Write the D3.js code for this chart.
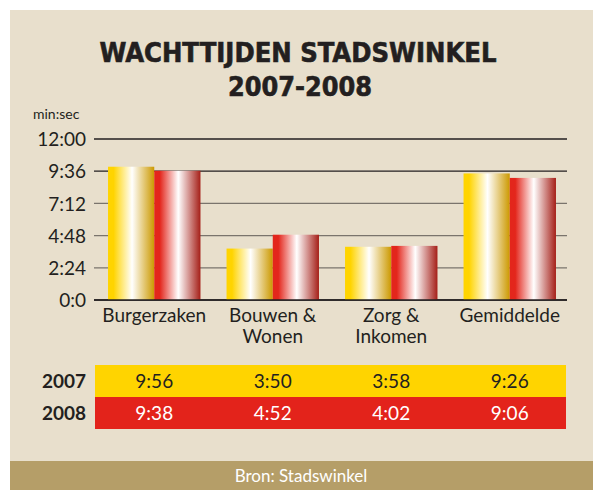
<!DOCTYPE html>
<html><head><meta charset="utf-8">
<script src="https://cdn.jsdelivr.net/npm/d3@7"></script>
<style>body{margin:0;background:#fff}svg{display:block}</style>
</head><body>
<script>
const categories = [["Burgerzaken"], ["Bouwen &", "Wonen"], ["Zorg &", "Inkomen"], ["Gemiddelde"]];
const seriesNames = ["2007", "2008"];
const values2007 = ["9:56", "3:50", "3:58", "9:26"];
const values2008 = ["9:38", "4:52", "4:02", "9:06"];
const tickLabels = ["0:0", "2:24", "4:48", "7:12", "9:36", "12:00"];
const titleLines = ["WACHTTIJDEN STADSWINKEL", "2007-2008"];
const unitLabel = "min:sec";
const sourceText = "Bron: Stadswinkel";

const toSec = s => { const [m, ss] = s.split(":").map(Number); return m * 60 + ss; };

const W = 593, H = 490;
const svg = d3.select("body").append("svg").attr("width", W).attr("height", H);
const bodyFont = "Lato, 'Noto Sans', sans-serif";
const ink = "#231f20";

svg.append("rect").attr("x", 10).attr("y", 10).attr("width", W - 10).attr("height", H - 10).attr("fill", "#e8dfcc");
svg.append("rect").attr("x", 10).attr("y", 461).attr("width", W - 10).attr("height", 29).attr("fill", "#b59e68");

const defs = svg.append("defs");
function grad(id, c0, c2) {
  const g = defs.append("linearGradient").attr("id", id).attr("x1", 0).attr("x2", 1).attr("y1", 0).attr("y2", 0);
  [[0, c0], [0.12, c0], [0.52, "#ffffff"], [1, c2]].forEach(([o, c]) => g.append("stop").attr("offset", o).attr("stop-color", c));
}
grad("g2007", "#ffd400", "#cc9900");
grad("g2008", "#e3261c", "#a51f18");

// title
const tfont = "'DejaVu Sans Condensed', 'Liberation Sans Narrow', sans-serif";
svg.append("text").attr("x", 298).attr("y", 62).attr("text-anchor", "middle")
  .attr("font-family", tfont).attr("font-weight", "bold").attr("font-size", 27)
  .attr("textLength", 397).attr("lengthAdjust", "spacingAndGlyphs").attr("fill", ink)
  .attr("stroke", ink).attr("stroke-width", 0.6).text(titleLines[0]);
svg.append("text").attr("x", 300).attr("y", 96).attr("text-anchor", "middle")
  .attr("font-family", tfont).attr("font-weight", "bold").attr("font-size", 27)
  .attr("textLength", 144).attr("lengthAdjust", "spacingAndGlyphs").attr("fill", ink)
  .attr("stroke", ink).attr("stroke-width", 0.6).text(titleLines[1]);

svg.append("text").attr("x", 33).attr("y", 119).attr("font-family", bodyFont).attr("font-size", 14)
  .attr("fill", ink).text(unitLabel);

const x0 = d3.scaleBand().domain(d3.range(categories.length)).range([95, 569]).paddingInner(0.22).paddingOuter(0.11);
const x1 = d3.scaleBand().domain(seriesNames).range([0, x0.bandwidth()]);
const y = d3.scaleLinear().domain([0, 720]).range([300, 139]);

const tickVals = tickLabels.map(toSec);
const grid = svg.append("g");
tickVals.forEach((v, i) => {
  const dark = (i === 0 || i === 4 || i === 5);
  grid.append("line").attr("x1", 94).attr("x2", 567).attr("y1", y(v)).attr("y2", y(v))
    .attr("stroke", dark ? ink : "#7a746c").attr("stroke-width", i === 0 ? 1.6 : 1.3);
});
const yAxis = d3.axisLeft(y).tickValues(tickVals).tickFormat((d, i) => tickLabels[i]).tickSize(0).tickPadding(0);
const ya = svg.append("g").attr("transform", "translate(86,0)").call(yAxis);
ya.select(".domain").remove();
ya.selectAll("text").attr("font-family", bodyFont).attr("font-size", 19).attr("fill", ink).attr("dy", "0.35em");

const series = [values2007, values2008];
const bars = svg.append("g");
categories.forEach((c, i) => {
  seriesNames.forEach((s, j) => {
    const v = toSec(series[j][i]);
    bars.append("rect").attr("x", x0(i) + x1(s)).attr("width", x1.bandwidth())
      .attr("y", y(v)).attr("height", y(0) - y(v)).attr("fill", `url(#g${s})`);
  });
});
svg.append("line").attr("x1", 94).attr("x2", 567).attr("y1", y(0)).attr("y2", y(0)).attr("stroke", ink).attr("stroke-width", 1.6);

// category labels
categories.forEach((c, i) => {
  c.forEach((line, k) => svg.append("text").attr("text-anchor", "middle").attr("font-family", bodyFont)
    .attr("font-size", 19).attr("fill", ink)
    .attr("x", x0(i) + x0.bandwidth() / 2).attr("y", 322 + k * 21).text(line));
});

// table
const rowY = [365, 397];
const rowH = 32;
const rowFill = ["#ffd400", "#e3231b"];
const rowText = [ink, "#ffffff"];
series.forEach((vals, j) => {
  svg.append("rect").attr("x", 95).attr("y", rowY[j]).attr("width", 471).attr("height", rowH).attr("fill", rowFill[j]);
  svg.append("text").attr("x", 86).attr("y", rowY[j] + rowH / 2).attr("dy", "0.35em").attr("text-anchor", "end")
    .attr("font-family", bodyFont).attr("font-weight", "bold").attr("font-size", 19).attr("fill", ink).text(seriesNames[j]);
  vals.forEach((v, i) => {
    svg.append("text").attr("x", x0(i) + x0.bandwidth() / 2).attr("y", rowY[j] + rowH / 2).attr("dy", "0.35em")
      .attr("text-anchor", "middle").attr("font-family", bodyFont).attr("font-size", 19).attr("fill", rowText[j]).text(v);
  });
});

svg.append("text").attr("x", 301).attr("y", 476).attr("dy", "0.35em").attr("text-anchor", "middle")
  .attr("font-family", bodyFont).attr("font-size", 17).attr("fill", "#ffffff").text(sourceText);
</script>
</body></html>
